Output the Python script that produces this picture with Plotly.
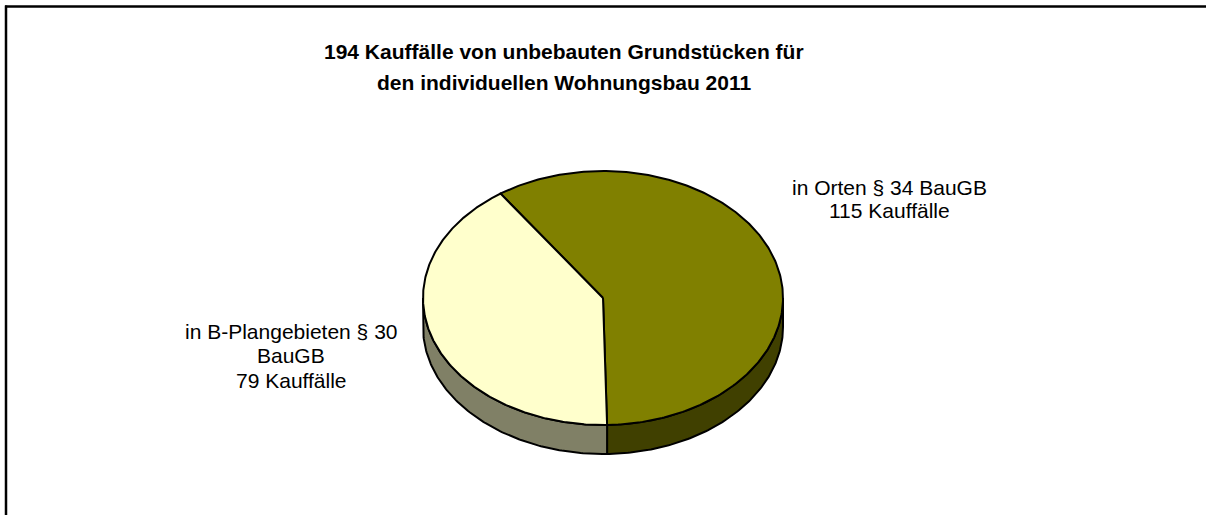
import numpy as np
import plotly.graph_objects as go

# ---- data ----
categories = ["in Orten § 34 BauGB", "in B-Plangebieten § 30 BauGB"]
values = [115, 79]
label_lines = [["in Orten § 34 BauGB", "115 Kauffälle"],
               ["in B-Plangebieten § 30", "BauGB", "79 Kauffälle"]]
title_lines = ["<b>194 Kauffälle von unbebauten Grundstücken für</b>",
               "<b>den individuellen Wohnungsbau 2011</b>"]
top_colors = ["#808000", "#FFFFCC"]
side_colors = ["#404000", "#808066"]

# ---- geometry (pixel space) ----
W, H = 1206, 515
cx, cy, rx, ry, depth = 603, 298, 180, 127, 29
start_angle = 325.3  # degrees clockwise from 12 o'clock

def pt(theta_deg, dy=0.0):
    t = np.radians(theta_deg)
    return cx + rx * np.sin(t), cy - ry * np.cos(t) + dy

fig = go.Figure()

total = float(sum(values))
spans = []
a = start_angle
for v in values:
    b = a + v / total * 360.0
    spans.append((a, b))
    a = b

# side walls (front half: 90..270 deg)
for i, (a0, a1) in enumerate(spans):
    for k in (-1, 0, 1, 2):
        f0, f1 = 90 + 360 * k, 270 + 360 * k
        s0, s1 = max(a0, f0), min(a1, f1)
        if s1 > s0:
            th = np.linspace(s0, s1, 120)
            xt, yt = pt(th)
            xb, yb = pt(th[::-1], depth)
            xs = np.concatenate([xt, xb, xt[:1]])
            ys = np.concatenate([yt, yb, yt[:1]])
            fig.add_trace(go.Scatter(x=xs, y=ys, mode="lines", fill="toself",
                                     fillcolor=side_colors[i],
                                     line=dict(color="black", width=2),
                                     hoverinfo="skip", showlegend=False))

# top faces
for i, (a0, a1) in enumerate(spans):
    th = np.linspace(a0, a1, 300)
    xa, ya = pt(th)
    xs = np.concatenate([[cx], xa, [cx]])
    ys = np.concatenate([[cy], ya, [cy]])
    fig.add_trace(go.Scatter(x=xs, y=ys, mode="lines", fill="toself",
                             fillcolor=top_colors[i],
                             line=dict(color="black", width=2),
                             name=categories[i], hoverinfo="name",
                             showlegend=False))

annotations = []
FONT = "Arial, Liberation Sans, sans-serif"
for j, t in enumerate(title_lines):
    annotations.append(dict(x=564, y=51 + 31 * j, text=t, showarrow=False,
                            xref="x", yref="y", xanchor="center", yanchor="middle",
                            font=dict(family=FONT, size=21, color="black")))
label_pos = [(889, 187, 23.5), (291, 331, 24.5)]
for (lx, ly, step), lines in zip(label_pos, label_lines):
    for j, t in enumerate(lines):
        annotations.append(dict(x=lx, y=ly + step * j, text=t, showarrow=False,
                                xref="x", yref="y", xanchor="center", yanchor="middle",
                                font=dict(family=FONT, size=21, color="black")))
annotations.append(dict(x=1197, y=-4, text="<i>Abbildung 15</i>", showarrow=False,
                        xref="x", yref="y", xanchor="right", yanchor="middle",
                        font=dict(family=FONT, size=15, color="black")))

fig.update_layout(
    width=W, height=H,
    margin=dict(l=0, r=0, t=0, b=0),
    paper_bgcolor="white", plot_bgcolor="white",
    xaxis=dict(range=[0, W], visible=False, fixedrange=True),
    yaxis=dict(range=[H, 0], visible=False, fixedrange=True),
    annotations=annotations,
    shapes=[
        dict(type="line", xref="paper", yref="paper", x0=6 / W, x1=6 / W,
             y0=0, y1=1 - 5.5 / H, line=dict(color="black", width=2.5), layer="above"),
        dict(type="line", xref="paper", yref="paper", x0=5 / W, x1=1,
             y0=1 - 6.5 / H, y1=1 - 6.5 / H, line=dict(color="black", width=2.5), layer="above"),
    ],
)

fig.write_html(
    "out.html",
    config={"displayModeBar": False},
    post_script=("document.documentElement.style.overflow='hidden';"
                 "document.body.style.margin='0';"
                 "document.body.style.overflow='hidden';"),
)
